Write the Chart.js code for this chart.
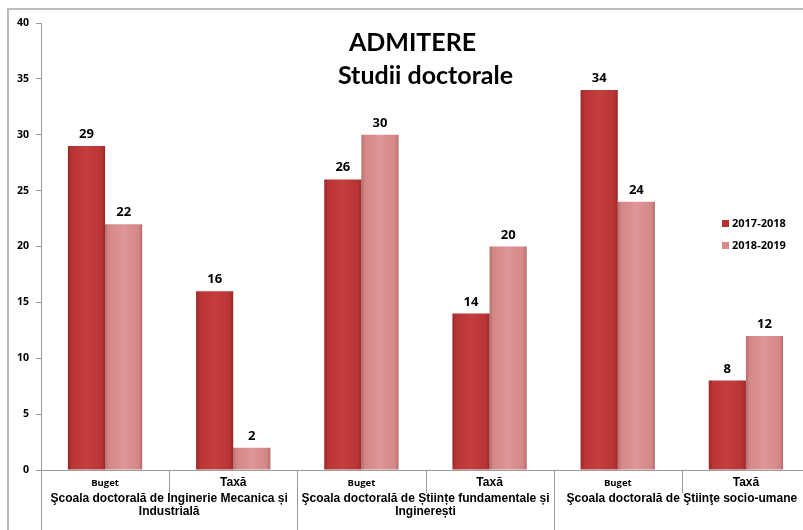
<!DOCTYPE html>
<html>
<head>
<meta charset="utf-8">
<script src="https://cdn.jsdelivr.net/npm/chart.js@4/dist/chart.umd.min.js"></script>
<style>
html,body{margin:0;padding:0;background:#fff;overflow:hidden;width:803px;height:530px;}
#wrap{position:absolute;left:0;top:0;width:815px;height:530px;}
</style>
</head>
<body>
<div id="wrap"><canvas id="c" width="815" height="530"></canvas></div>
<script>
const subLabels = ["Buget","Taxă","Buget","Taxă","Buget","Taxă"];
const groupLabels = [
  ["Şcoala doctorală de Inginerie Mecanica și","Industrială"],
  ["Şcoala doctorală de Științe fundamentale și","Inginerești"],
  ["Şcoala doctorală de Ştiinţe socio-umane"]
];
const seriesNames = ["2017-2018","2018-2019"];
const values2017 = [29,16,26,14,34,8];
const values2018 = [22,2,30,20,24,12];
const titleLines = ["ADMITERE","Studii doctorale"];
const yTicks = [0,5,10,15,20,25,30,35,40];

const palette = [
  {edge:'#962828', mid:'#b93434', light:'#c43e3e', legend:'#b83232'},
  {edge:'#b66e6e', mid:'#d48787', light:'#df9696', legend:'#d98a8a'}
];

function barFill(ctx){
  const chart = ctx.chart;
  const p = palette[ctx.datasetIndex];
  const xs = chart.scales.x;
  if(!xs || !isFinite(xs.width) || xs.width<=0) return p.mid;
  const c = xs.getPixelForValue(ctx.dataIndex);
  const w = (xs.width/subLabels.length)*0.58/2;
  const left = ctx.datasetIndex===0 ? c-w : c;
  const g = chart.ctx.createLinearGradient(left,0,left+w,0);
  g.addColorStop(0,p.edge);
  g.addColorStop(0.1,p.mid);
  g.addColorStop(0.5,p.light);
  g.addColorStop(0.9,p.mid);
  g.addColorStop(1,p.edge);
  return g;
}

const decor = {
  id:'decor',
  beforeDraw(chart){
    const c = chart.ctx;
    c.save();
    c.strokeStyle = '#bdbdbd';
    c.lineWidth = 2;
    c.beginPath();
    c.moveTo(8,540); c.lineTo(8,9); c.lineTo(820,9);
    c.stroke();
    c.restore();
  },
  afterDatasetsDraw(chart){
    const c = chart.ctx;
    c.save();
    c.fillStyle = '#000';
    c.font = 'bold 13px "Open Sans", Lato, sans-serif';
    c.textAlign = 'center';
    c.textBaseline = 'alphabetic';
    chart.data.datasets.forEach((ds,di)=>{
      const meta = chart.getDatasetMeta(di);
      meta.data.forEach((bar,i)=>{
        c.fillText(String(ds.data[i]), bar.x, bar.y-8);
      });
    });
    c.restore();
  },
  afterDraw(chart){
    const c = chart.ctx;
    const xs = chart.scales.x;
    const area = chart.chartArea;
    const n = subLabels.length;
    const cw = xs.width/n;
    c.save();
    c.strokeStyle = '#999';
    c.lineWidth = 1;
    for(let i=0;i<=n;i++){
      const x = Math.round(xs.getPixelForValue(i) - cw/2) + 0.5;
      const full = (i%2===0);
      c.beginPath();
      c.moveTo(x, area.bottom);
      c.lineTo(x, full ? 540 : area.bottom+23);
      c.stroke();
    }
    c.fillStyle = '#000';
    c.textAlign = 'center';
    c.textBaseline = 'middle';
    subLabels.forEach((s,i)=>{
      const x = xs.getPixelForValue(i);
      if(s==='Buget'){
        c.font = 'bold 9.5px "Open Sans", Lato, sans-serif';
      } else {
        c.font = 'bold 12px "Liberation Sans", Arial, sans-serif';
      }
      c.fillText(s, x, area.bottom+13);
    });
    c.font = 'bold 12px "Liberation Sans", Arial, sans-serif';
    groupLabels.forEach((lines,g)=>{
      const x = (xs.getPixelForValue(2*g) + xs.getPixelForValue(2*g+1))/2;
      lines.forEach((t,k)=>{
        c.fillText(t, x, area.bottom+29+k*12.5);
      });
    });
    const tx = (xs.getPixelForValue(2)+xs.getPixelForValue(3))/2;
    c.font = 'bold 25px Lato, "Open Sans", sans-serif';
    c.fillText(titleLines[0], tx-13, 43);
    c.fillText(titleLines[1], tx, 76);
    c.textAlign = 'left';
    c.font = 'bold 11px "Open Sans", Lato, sans-serif';
    seriesNames.forEach((s,i)=>{
      const y = 224 + i*22;
      c.fillStyle = palette[i].legend;
      c.fillRect(722, y-4, 7, 7);
      c.fillStyle = '#000';
      c.fillText(s, 732, y);
    });
    c.restore();
  }
};

new Chart(document.getElementById('c'), {
  type:'bar',
  data:{
    labels: subLabels,
    datasets:[
      {label:seriesNames[0], data:values2017, backgroundColor:barFill, borderWidth:0},
      {label:seriesNames[1], data:values2018, backgroundColor:barFill, borderWidth:0}
    ]
  },
  options:{
    responsive:false,
    animation:false,
    devicePixelRatio:1,
    layout:{padding:{left:0,top:23,right:5,bottom:0}},
    datasets:{bar:{categoryPercentage:0.58, barPercentage:1}},
    plugins:{legend:{display:false}, title:{display:false}, tooltip:{enabled:false}},
    scales:{
      x:{
        grid:{display:false},
        border:{display:true,color:'#999',width:1},
        ticks:{display:false},
        afterFit(s){ s.height = 60; }
      },
      y:{
        min:0, max:40,
        afterBuildTicks(s){ s.ticks = yTicks.map(v=>({value:v})); },
        grid:{drawOnChartArea:false, drawTicks:true, tickLength:5, color:'#999'},
        border:{display:true,color:'#999',width:1},
        ticks:{padding:7, color:'#000', font:{family:'"Open Sans", Lato, sans-serif', weight:'bold', size:10.5}},
        afterFit(s){ s.width = 41; }
      }
    }
  },
  plugins:[decor]
});
</script>
</body>
</html>
